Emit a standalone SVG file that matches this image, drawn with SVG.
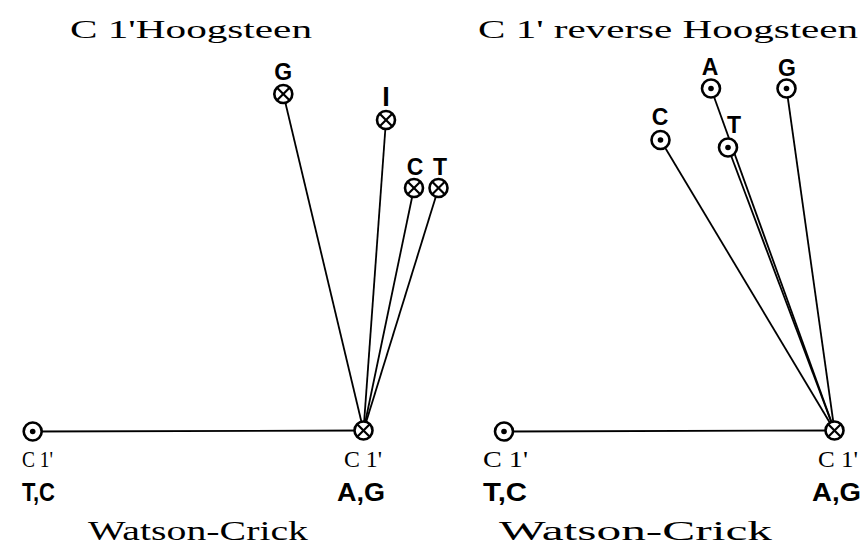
<svg xmlns="http://www.w3.org/2000/svg" width="861" height="548" viewBox="0 0 861 548">
<style>
.title{font-family:"Liberation Serif",serif;font-size:25px;fill:#000}
.wc{font-family:"Liberation Serif",serif;font-size:28px;fill:#000}
.c1{font-family:"Liberation Serif",serif;font-size:24px;fill:#000}
.lab{font-family:"Liberation Sans",Arial,sans-serif;font-weight:bold;font-size:23px;fill:#000}
.big{font-size:25px}
.ring{fill:#fff;stroke:#000;stroke-width:2.6}
.x{stroke:#000;stroke-width:2.2}
.dot{fill:#000}
.conn line{stroke:#000;stroke-width:1.8}
</style>
<defs>
<g id="cross"><circle class="ring" r="9"/><line class="x" x1="-6" y1="-6" x2="6" y2="6"/><line class="x" x1="-6" y1="6" x2="6" y2="-6"/></g>
<g id="dotc"><circle class="ring" r="9"/><circle class="dot" r="2.8"/></g>
</defs>
<rect width="861" height="548" fill="#fff"/>
<g id="connectors" class="conn">
<line x1="32.7" y1="431.5" x2="363.5" y2="430.5"/>
<line x1="283.3" y1="94" x2="363.5" y2="430.5"/>
<line x1="386" y1="120" x2="363.5" y2="430.5"/>
<line x1="414" y1="188" x2="363.5" y2="430.5"/>
<line x1="438.5" y1="188" x2="363.5" y2="430.5"/>
<line x1="504" y1="431.5" x2="834.5" y2="430.5"/>
<line x1="711" y1="88.5" x2="834.5" y2="430.5"/>
<line x1="786.5" y1="88.5" x2="834.5" y2="430.5"/>
<line x1="660.5" y1="140" x2="834.5" y2="430.5"/>
<line x1="728" y1="147.5" x2="834.5" y2="430.5"/>
</g>
<g id="titles">
<text class="title" x="70" y="38" textLength="242" lengthAdjust="spacingAndGlyphs">C 1'Hoogsteen</text>
<text class="title" x="478" y="38" textLength="380" lengthAdjust="spacingAndGlyphs">C 1' reverse Hoogsteen</text>
<text class="wc" x="88" y="540" textLength="220" lengthAdjust="spacingAndGlyphs">Watson-Crick</text>
<text class="wc" x="499" y="540" textLength="273" lengthAdjust="spacingAndGlyphs">Watson-Crick</text>
</g>
<g id="L-TC"><use href="#dotc" x="32.7" y="431.5"/>
<text class="c1" x="22" y="467" textLength="31" lengthAdjust="spacingAndGlyphs">C 1'</text>
<text class="lab big" x="22" y="501" textLength="33" lengthAdjust="spacingAndGlyphs">T,C</text></g>
<g id="L-AG"><use href="#cross" x="363.5" y="430.5"/>
<text class="c1" x="344" y="467" textLength="38" lengthAdjust="spacingAndGlyphs">C 1'</text>
<text class="lab big" x="337" y="501" textLength="48" lengthAdjust="spacingAndGlyphs">A,G</text></g>
<g id="L-G"><use href="#cross" x="283.3" y="94"/><text class="lab" x="283.3" y="80" text-anchor="middle">G</text></g>
<g id="L-I"><use href="#cross" x="386" y="120"/><text class="lab" x="386" y="106" text-anchor="middle" style="font-size:27px">I</text></g>
<g id="L-C"><use href="#cross" x="414" y="188"/><text class="lab" x="415" y="175" text-anchor="middle">C</text></g>
<g id="L-T"><use href="#cross" x="438.5" y="188"/><text class="lab" x="440" y="175" text-anchor="middle">T</text></g>
<g id="R-TC"><use href="#dotc" x="504" y="431.5"/>
<text class="c1" x="483" y="467" textLength="45" lengthAdjust="spacingAndGlyphs">C 1'</text>
<text class="lab big" x="483" y="501" textLength="44" lengthAdjust="spacingAndGlyphs">T,C</text></g>
<g id="R-AG"><use href="#cross" x="834.5" y="430.5"/>
<text class="c1" x="818" y="467" textLength="40" lengthAdjust="spacingAndGlyphs">C 1'</text>
<text class="lab big" x="812" y="501" textLength="49" lengthAdjust="spacingAndGlyphs">A,G</text></g>
<g id="R-A"><use href="#dotc" x="711" y="88.5"/><text class="lab" x="710" y="75" text-anchor="middle">A</text></g>
<g id="R-G"><use href="#dotc" x="786.5" y="88.5"/><text class="lab" x="787" y="76" text-anchor="middle">G</text></g>
<g id="R-C"><use href="#dotc" x="660.5" y="140"/><text class="lab" x="660" y="125" text-anchor="middle">C</text></g>
<g id="R-T"><use href="#dotc" x="728" y="147.5"/><text class="lab" x="734" y="133" text-anchor="middle">T</text></g>
</svg>
